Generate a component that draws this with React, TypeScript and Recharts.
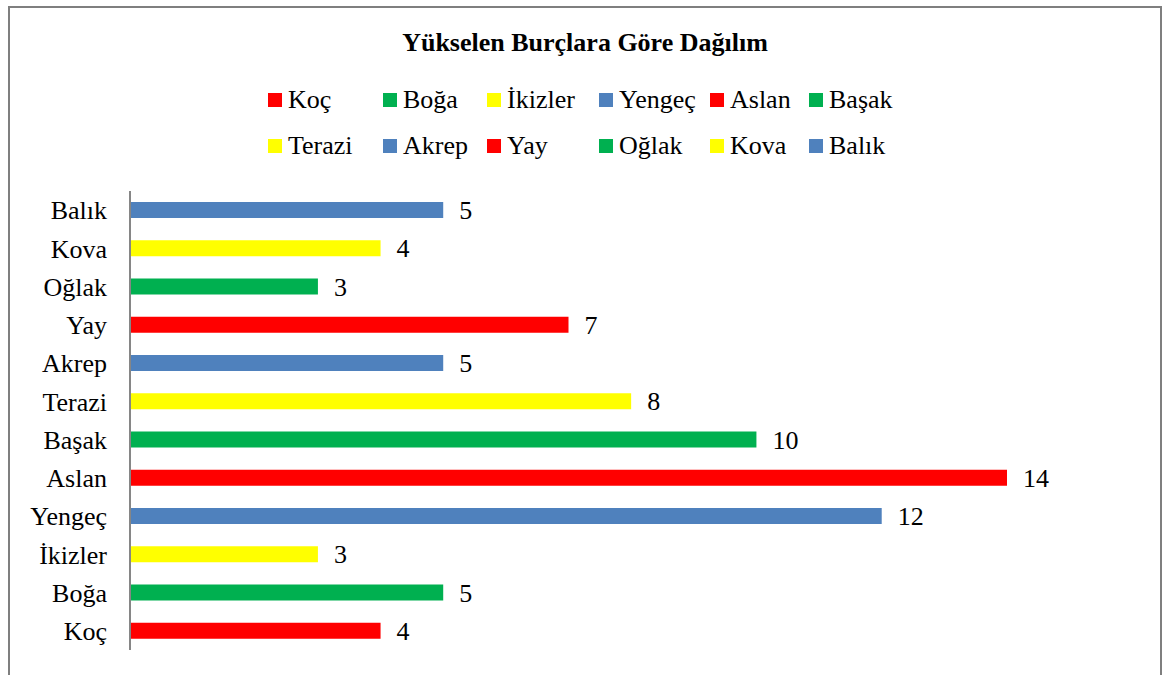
import { BarChart, Bar, XAxis, YAxis, Cell, LabelList } from "recharts";

const categories = ["Koç", "Boğa", "İkizler", "Yengeç", "Aslan", "Başak", "Terazi", "Akrep", "Yay", "Oğlak", "Kova", "Balık"];
const counts = [4, 5, 3, 12, 14, 10, 8, 5, 7, 3, 4, 5];
const colors = ["#FF0000", "#00B050", "#FFFF00", "#4F81BD", "#FF0000", "#00B050", "#FFFF00", "#4F81BD", "#FF0000", "#00B050", "#FFFF00", "#4F81BD"];
const title = "Yükselen Burçlara Göre Dağılım";

const data = categories.map((name, i) => ({ name, value: counts[i] }));

const FONT = "'Liberation Serif', 'Times New Roman', serif";
// legend grid, as placed in the original (Excel) layout
const legendCols = [268, 383, 487, 599, 710, 809];
const legendRows = [100, 146];

const App = () => {
  return (
    <div style={{ position: "absolute", left: 0, top: 0, width: 1163, height: 675, background: "#fff", overflow: "hidden", fontFamily: FONT }}>
      <div style={{ position: "absolute", left: 8, top: 6, width: 1150, height: 700, border: "2px solid #7f7f7f" }} />
      <div style={{ position: "absolute", left: 0, top: 27, width: 1170, textAlign: "center", fontWeight: "bold", fontSize: 26, lineHeight: "32px", color: "#000" }}>
        {title}
      </div>
      {categories.map((c, i) => (
        <div
          key={c}
          style={{
            position: "absolute",
            left: legendCols[i % 6],
            top: legendRows[Math.floor(i / 6)] - 15,
            height: 30,
            lineHeight: "30px",
            display: "flex",
            alignItems: "center",
            fontSize: 26,
            color: "#000",
            whiteSpace: "nowrap",
          }}
        >
          <span style={{ display: "inline-block", width: 14, height: 14, background: colors[i], marginRight: 6 }} />
          {c}
        </div>
      ))}
      <div style={{ position: "absolute", left: 0, top: 0 }}>
        <BarChart
          width={1163}
          height={675}
          data={data}
          layout="vertical"
          margin={{ top: 191, right: 156, bottom: 25, left: 0 }}
          barCategoryGap={0}
        >
          <XAxis type="number" domain={[0, 14]} hide />
          <YAxis
            type="category"
            dataKey="name"
            reversed
            width={130}
            axisLine={{ stroke: "#868686", strokeWidth: 2 }}
            tickLine={false}
            tickSize={6}
            tickMargin={17}
            tick={{ fill: "#000", fontSize: 26, fontFamily: FONT }}
            interval={0}
          />
          <Bar dataKey="value" barSize={16} isAnimationActive={false}>
            {data.map((d, i) => (
              <Cell key={d.name} fill={colors[i]} />
            ))}
            <LabelList dataKey="value" position="right" offset={16} style={{ fill: "#000", fontSize: 26, fontFamily: FONT }} />
          </Bar>
        </BarChart>
      </div>
    </div>
  );
};

export default App;
